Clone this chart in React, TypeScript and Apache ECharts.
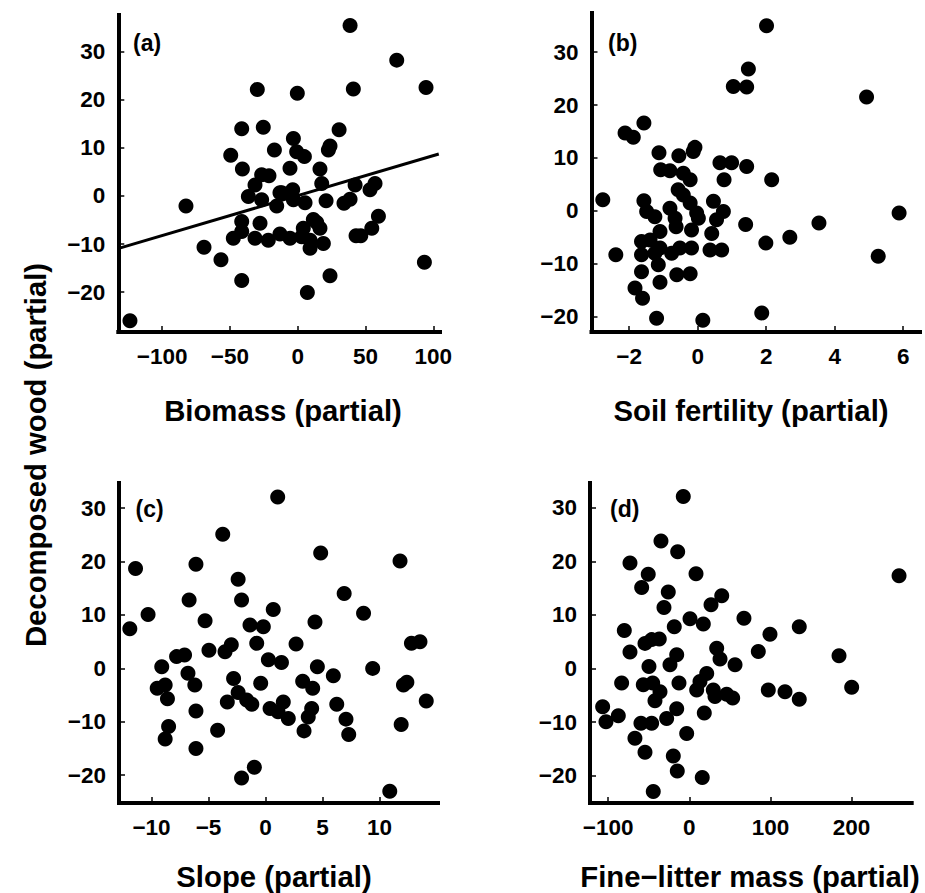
import React, { useEffect, useRef } from "react";
import * as echarts from "echarts";

// ---- data ----
const yTicks = [-20, -10, 0, 10, 20, 30];
const biomassTicks = [-100, -50, 0, 50, 100];
const fertilityTicks = [-2, 0, 2, 4, 6];
const slopeTicks = [-10, -5, 0, 5, 10];
const litterTicks = [-100, 0, 100, 200];

const biomassPoints = [
  [-123.7, -26.0], [-82.4, -2.1], [-69.1, -10.7], [-56.6, -13.3], [-41.3, -17.6], [-29.8, 22.2],
  [-41.3, 14.0], [-25.4, 14.3], [-49.4, 8.5], [-17.2, 9.6], [-40.8, 5.6], [-26.6, 4.4], [-21.2, 4.2],
  [-31.5, 2.3], [-36.4, -0.1], [-26.6, -0.8], [-15.5, -2.1], [-13.1, 0.7], [-41.3, -5.3], [-27.8, -5.7],
  [-47.5, -8.8], [-41.3, -7.4], [-31.5, -8.8], [-21.7, -9.2], [-13.1, -7.9], [-5.7, -8.8], [38.6, 35.5],
  [73.0, 28.3], [41.0, 22.3], [94.6, 22.6], [-0.3, 21.4], [30.5, 13.8], [23.8, 10.4], [22.6, 9.6],
  [-3.2, 12.0], [-0.8, 9.2], [4.9, 8.2], [-5.7, 5.8], [16.4, 5.6], [17.7, 2.6], [-11.8, 0.7], [-3.7, 1.3],
  [-3.2, -0.8], [5.4, -1.4], [20.9, -1.0], [42.3, 2.3], [57.0, 2.6], [53.3, 1.3], [34.1, -1.5],
  [38.6, -0.7], [11.5, -4.9], [4.1, -6.7], [16.4, -6.7], [59.5, -4.2], [54.6, -6.7], [43.0, -8.3],
  [46.5, -8.3], [2.9, -8.5], [9.1, -9.2], [18.9, -9.9], [14.0, -5.5], [9.1, -10.9], [23.8, -16.6],
  [7.1, -20.1], [93.4, -13.8],
];
const biomassFit = [[-132, -10.9], [104, 8.75]];

const fertilityPoints = [
  [-2.77, 2.1], [-2.39, -8.3], [-2.12, 14.7], [-1.88, 13.9], [-1.57, 16.6], [-1.13, 11.0], [-0.55, 10.4],
  [-0.08, 12.0], [-0.13, 11.2], [-1.08, 7.75], [-0.81, 7.6], [-0.42, 7.1], [-0.22, 5.9], [-0.57, 4.0],
  [-0.42, 3.0], [-0.22, 1.5], [-0.03, -0.4], [0.02, -1.4], [-1.57, 1.9], [-1.49, -0.1], [-1.25, -1.1],
  [-0.81, 0.5], [-0.66, -1.4], [-0.63, -3.0], [-1.1, -3.9], [-0.18, -3.6], [-1.64, -5.8], [-1.39, -5.5],
  [-1.64, -8.3], [-1.25, -8.0], [-1.1, -7.0], [-0.76, -8.0], [-0.52, -7.0], [-0.18, -7.0], [-1.15, -10.2],
  [-1.64, -11.5], [-1.1, -13.5], [-1.83, -14.6], [-1.61, -16.5], [-0.61, -12.1], [-0.22, -11.9],
  [-1.2, -20.3], [0.15, -20.7], [0.46, 1.8], [0.75, -0.1], [0.55, -1.7], [0.41, -4.3], [0.36, -7.4],
  [0.7, -7.4], [0.65, 9.1], [0.99, 9.1], [1.43, 8.4], [0.77, 5.9], [1.4, -2.6], [1.04, 23.5], [1.43, 23.4],
  [1.48, 26.8], [2.01, 35.0], [4.93, 21.5], [2.16, 5.9], [1.99, -6.1], [2.69, -5.0], [3.54, -2.3],
  [5.88, -0.4], [5.27, -8.6], [1.87, -19.3],
];

const slopePoints = [
  [1.07, 32.1], [-3.75, 25.1], [-11.4, 18.7], [-6.1, 19.5], [-2.4, 16.7], [-6.7, 12.8], [-2.1, 12.8],
  [-10.3, 10.1], [-11.9, 7.4], [0.68, 11.0], [-5.3, 8.9], [-1.36, 8.1], [-0.19, 7.8], [-0.77, 4.7],
  [-4.96, 3.4], [-3.55, 3.1], [-3.0, 4.4], [-7.8, 2.2], [-7.1, 2.5], [0.25, 1.6], [1.4, 1.1], [-9.1, 0.3],
  [-6.8, -0.9], [-6.2, -3.1], [-9.5, -3.7], [-8.8, -3.1], [-8.6, -5.7], [-2.8, -1.9], [-0.42, -2.8],
  [-2.4, -4.5], [-1.65, -5.9], [-1.2, -6.7], [-3.35, -6.3], [0.4, -7.5], [1.1, -8.1], [1.56, -6.3],
  [-6.1, -8.0], [-8.5, -10.9], [-8.8, -13.2], [-4.2, -11.6], [-6.1, -15.0], [-0.98, -18.5], [-2.1, -20.5],
  [4.84, 21.6], [11.8, 20.1], [6.9, 14.0], [8.6, 10.3], [4.34, 8.7], [2.68, 4.55], [12.8, 4.7],
  [13.55, 5.0], [4.55, 0.3], [5.95, -1.4], [9.4, 0.0], [3.26, -2.4], [4.14, -3.7], [12.1, -3.1],
  [12.4, -2.6], [14.1, -6.1], [2.0, -9.4], [4.05, -7.5], [3.75, -9.1], [3.38, -11.7], [6.25, -6.7],
  [7.06, -9.5], [7.3, -12.4], [11.9, -10.5], [10.9, -23.0],
];

const litterPoints = [
  [-7.4, 32.1], [-34.9, 23.8], [-14.3, 21.8], [-73.1, 19.7], [-50.6, 17.6], [-58.7, 15.1], [8.3, 17.7],
  [-25.9, 14.3], [-31.2, 11.4], [40, 13.6], [26.8, 11.9], [67.4, 9.4], [-80.1, 7.1], [-18.5, 7.8],
  [0.9, 9.3], [17.3, 8.3], [-54.6, 4.7], [-46.4, 5.4], [-37, 5.5], [-73.1, 3.1], [33.8, 3.8], [37.9, 1.8],
  [56.4, 0.7], [-15.5, 2.6], [-23.8, 0.7], [-49.7, 0.4], [-83.4, -2.7], [-56.7, -3.0], [-45.1, -2.7],
  [-36.1, -4.3], [-42.3, -6.0], [-12.7, -2.7], [21.5, -0.9], [13.2, -2.4], [9.1, -4.0], [29.6, -4.0],
  [31.7, -5.2], [46.1, -4.8], [53.5, -5.5], [-106.8, -7.1], [-102.7, -9.9], [-87.5, -8.8], [-59.6, -10.2],
  [-46.4, -10.2], [-67, -13.0], [-27.9, -9.3], [-15.5, -7.5], [18.5, -8.3], [-3.2, -12.1], [-54.6, -15.6],
  [-19.7, -16.3], [-14.8, -19.1], [16, -20.3], [-44.4, -22.9], [258.6, 17.3], [135.6, 7.8], [99.5, 6.4],
  [85.1, 3.2], [184.6, 2.4], [97.4, -4.0], [118, -4.3], [135.6, -5.7], [200.2, -3.5],
];

const xTitles = ["Biomass (partial)", "Soil fertility (partial)", "Slope (partial)", "Fine\u2212litter mass (partial)"];
const panelTags = ["(a)", "(b)", "(c)", "(d)"];
const yTitle = "Decomposed wood (partial)";

const FONT = '"Liberation Sans", Arial, Helvetica, sans-serif';
const fmt = (v: number) => String(v).replace("-", "\u2212");

function makeAxis(gridIndex: number, min: number, max: number, ticks: number[]) {
  return {
    type: "value",
    gridIndex,
    min,
    max,
    axisLine: { show: true, onZero: false, lineStyle: { color: "#000", width: 4, cap: "square" } },
    axisTick: { show: true, inside: true, length: 6, lineStyle: { color: "#000", width: 1.5 }, customValues: ticks },
    axisLabel: {
      show: true,
      customValues: ticks,
      color: "#000",
      fontSize: 22.5,
      fontWeight: "bold",
      fontFamily: FONT,
      margin: 13,
      formatter: fmt,
    },
    splitLine: { show: false },
  };
}

export default function App() {
  const ref = useRef<HTMLDivElement>(null);
  useEffect(() => {
    document.body.style.margin = "0";
    if (!ref.current) return;
    const chart = echarts.init(ref.current, null, { renderer: "svg" });
    const grids = [
      { left: 118.3, top: 15, width: 321.7, height: 317 },
      { left: 591.5, top: 13, width: 328.5, height: 319 },
      { left: 119, top: 483, width: 319, height: 320 },
      { left: 590, top: 483, width: 321.7, height: 320 },
    ].map((g) => ({ ...g, containLabel: false, outerBoundsMode: "none", show: false }));

    const textStyle = (s: any) => ({ fill: "#000", fontFamily: FONT, fontWeight: "bold", ...s });
    const titlePos = [
      [283, 410],
      [751, 410],
      [274, 876],
      [750, 876],
    ];
    const tagPos = [
      [133, 43],
      [608, 42.5],
      [135.5, 509],
      [610, 509],
    ];
    const graphic: any[] = [];
    xTitles.forEach((t, i) => {
      graphic.push({
        type: "text",
        x: titlePos[i][0],
        y: titlePos[i][1],
        style: textStyle({ text: t, fontSize: 29.3, align: "center", verticalAlign: "middle" }),
      });
    });
    panelTags.forEach((t, i) => {
      graphic.push({
        type: "text",
        x: tagPos[i][0],
        y: tagPos[i][1],
        style: textStyle({ text: t, fontSize: 23, align: "left", verticalAlign: "middle" }),
      });
    });
    graphic.push({
      type: "text",
      x: 35,
      y: 455,
      rotation: Math.PI / 2,
      style: textStyle({ text: yTitle, fontSize: 29.3, align: "center", verticalAlign: "middle" }),
    });

    const scatter = (data: number[][], idx: number) => ({
      type: "scatter",
      xAxisIndex: idx,
      yAxisIndex: idx,
      data,
      symbol: "circle",
      symbolSize: 15,
      itemStyle: { color: "#000", opacity: 1 },
      silent: true,
    });

    chart.setOption({
      animation: false,
      backgroundColor: "#fff",
      grid: grids,
      xAxis: [
        makeAxis(0, -132.3, 104.9, biomassTicks),
        makeAxis(1, -3.1, 6.49, fertilityTicks),
        makeAxis(2, -12.85, 15.13, slopeTicks),
        makeAxis(3, -122.4, 274.2, litterTicks),
      ],
      yAxis: [
        makeAxis(0, -28.33, 37.7, yTicks),
        makeAxis(1, -22.9, 37.4, yTicks),
        makeAxis(2, -25.2, 34.7, yTicks),
        makeAxis(3, -25.06, 34.6, yTicks),
      ],
      series: [
        scatter(biomassPoints, 0),
        {
          type: "line",
          xAxisIndex: 0,
          yAxisIndex: 0,
          data: biomassFit,
          symbol: "none",
          lineStyle: { color: "#000", width: 3 },
          silent: true,
        },
        scatter(fertilityPoints, 1),
        scatter(slopePoints, 2),
        scatter(litterPoints, 3),
      ],
      graphic,
    });
    return () => chart.dispose();
  }, []);
  return <div ref={ref} style={{ width: 925, height: 893 }} />;
}
